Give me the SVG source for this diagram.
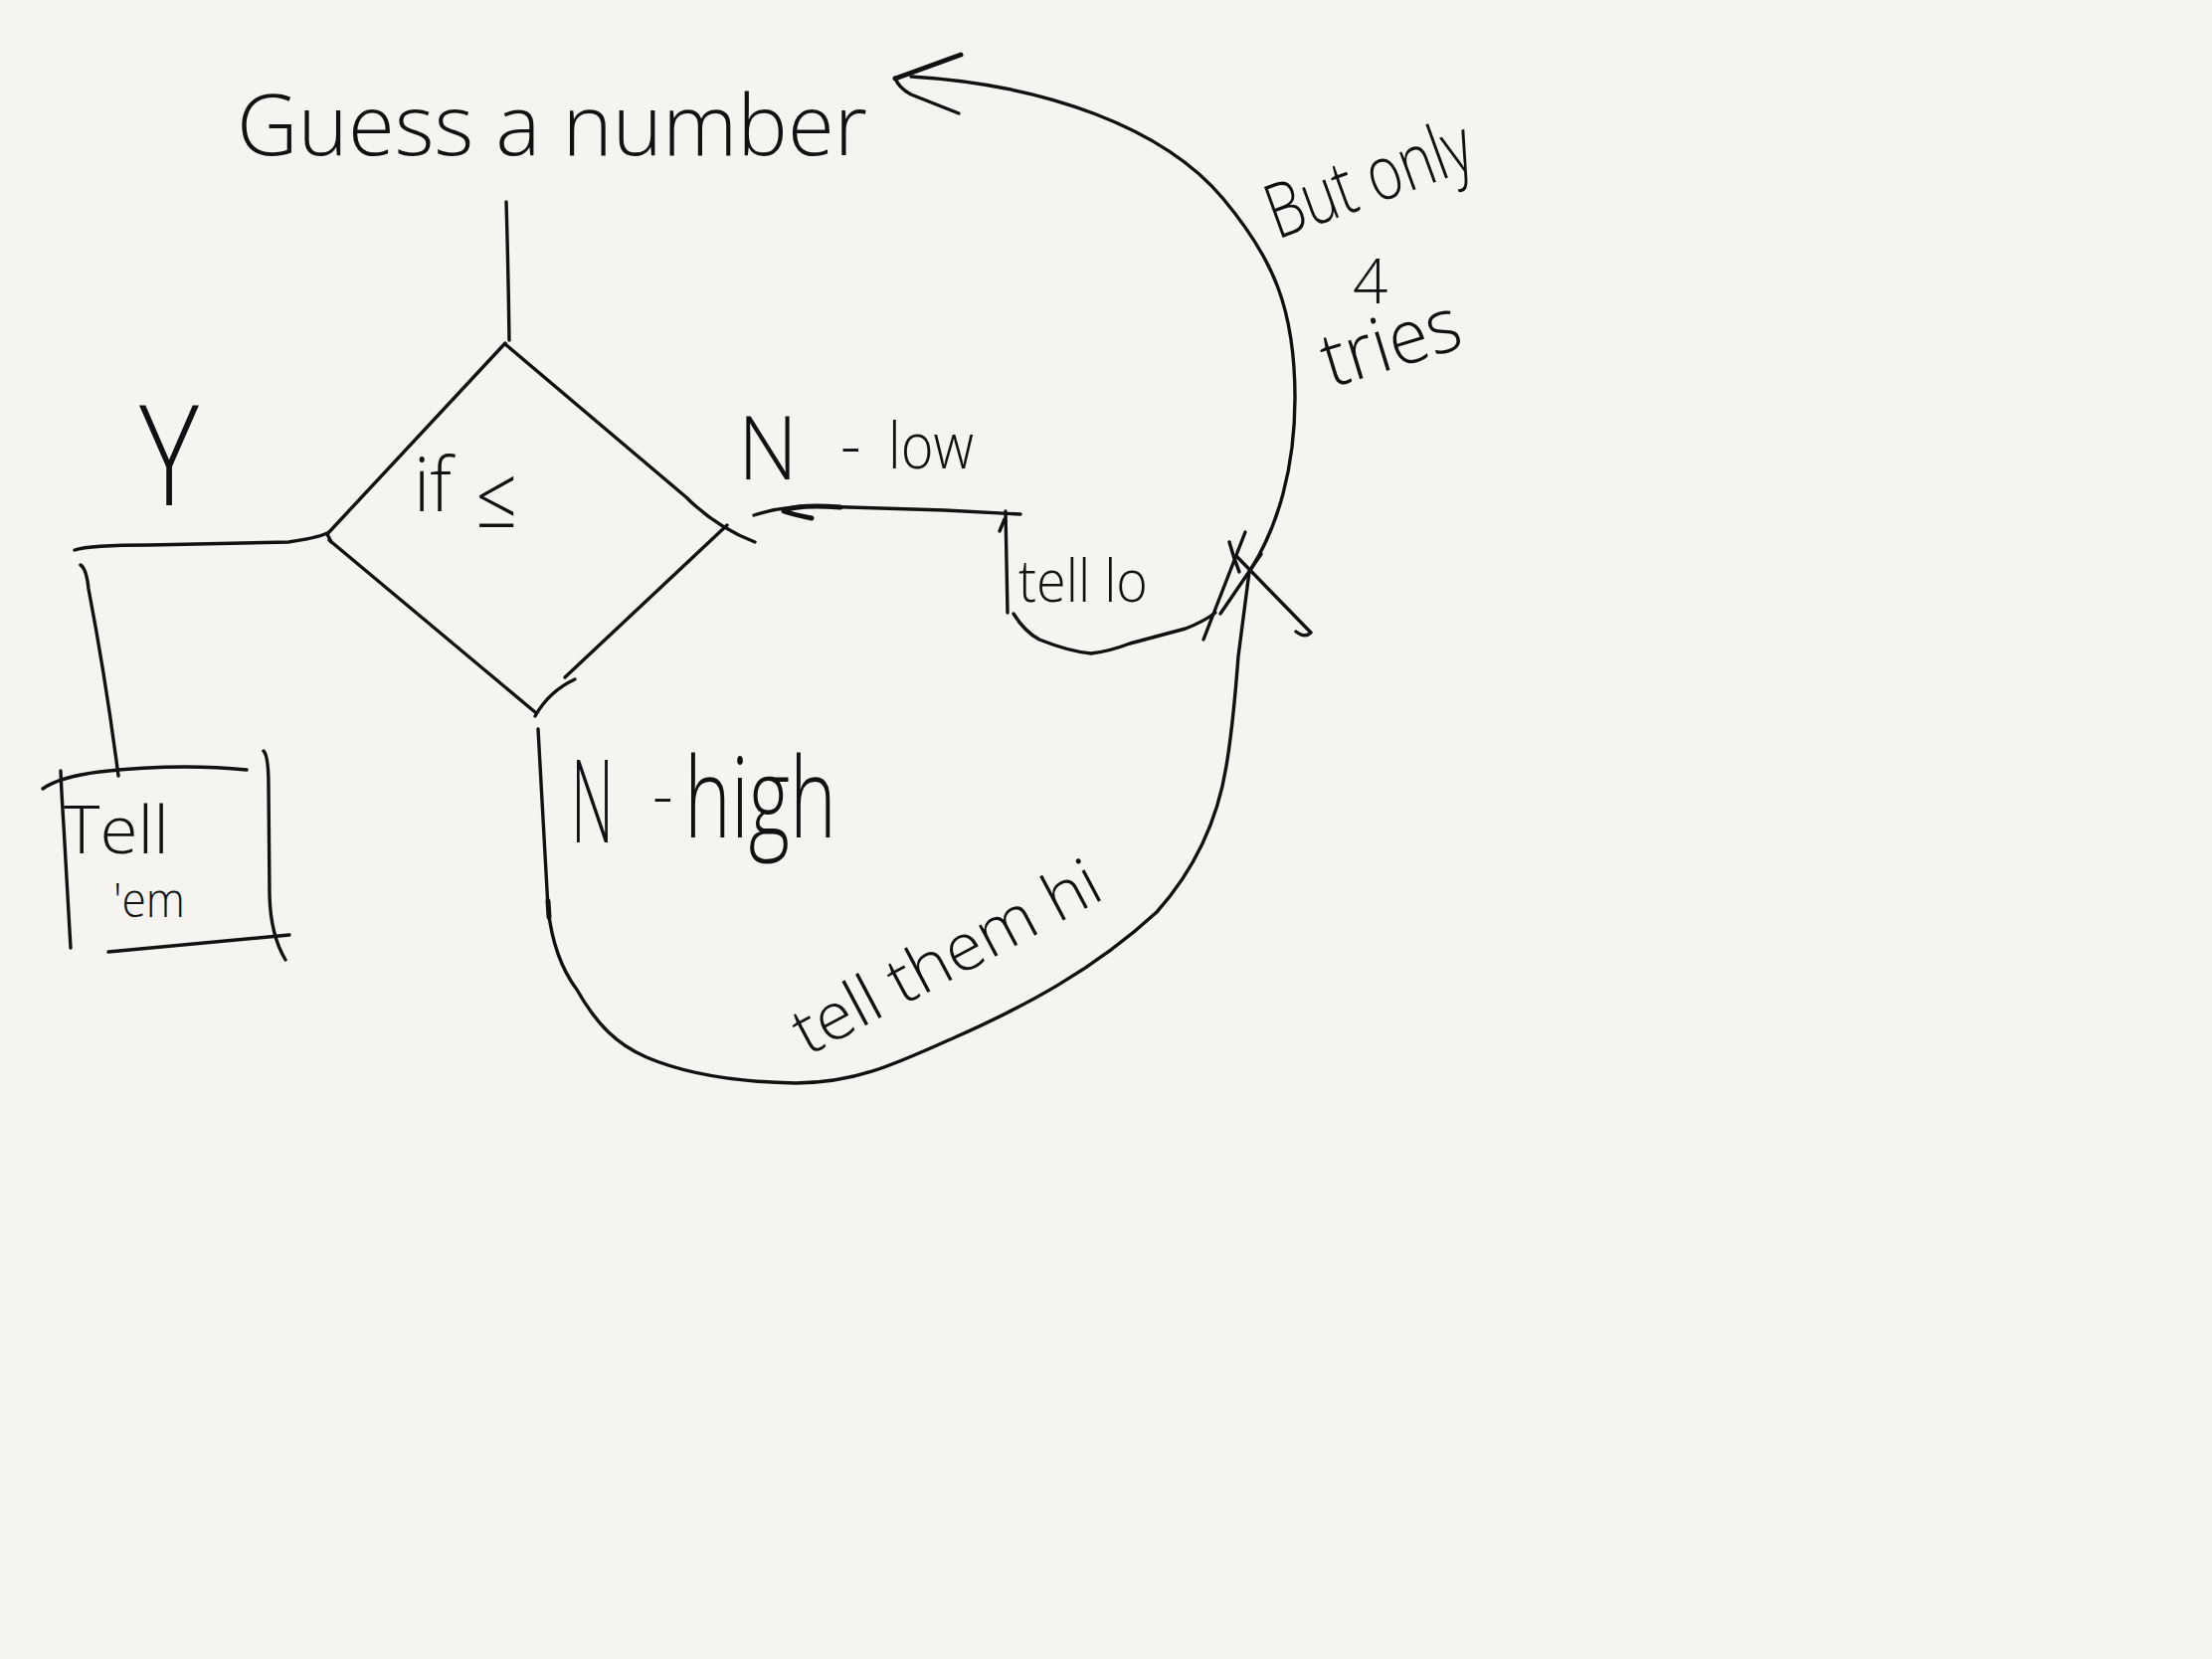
<svg xmlns="http://www.w3.org/2000/svg" width="2224" height="1668" viewBox="0 0 2224 1668">
<style>
.ink{fill:none;stroke:#111;stroke-width:3.4;stroke-linecap:round;stroke-linejoin:round}
.thick{stroke-width:5}
.t{font-family:"Open Sans","Liberation Sans",sans-serif;font-weight:300;fill:#111}
</style>
<rect x="0" y="0" width="2224" height="1668" fill="#f5f4f0"/>

<g id="connectors">
  <!-- Guess to decision -->
  <path class="ink" d="M 509 203 Q 511 270 512 342"/>
  <!-- Y branch -->
  <path class="ink" d="M 75 553 Q 90 548 150 548 L 290 545 Q 318 541 329 536"/>
  <path class="ink" d="M 81 568 Q 87 572 89 592 Q 106 680 119 780"/>
  <!-- N low branch -->
  <path class="ink" d="M 758 518 Q 790 508 822 509 L 950 513 L 1026 517"/>
  <path class="ink thick" d="M 845 510 Q 800 507 788 514 Q 800 518 816 521"/>
  <path class="ink" d="M 1011 514 L 1013 616"/>
  <path class="ink" d="M 1010 522 L 1005 534"/>
  <path class="ink" d="M 1019 617 Q 1030 635 1045 643 Q 1075 655 1097 657 Q 1115 655 1136 647 Q 1170 638 1192 632 Q 1210 625 1222 616"/>
  <!-- cross mark -->
  <path class="ink" d="M 1210 643 L 1252 535"/>
  <path class="ink" d="M 1227 617 L 1268 557"/>
  <path class="ink" d="M 1236 545 Q 1240 560 1246 575"/>
  <path class="ink" d="M 1244 560 L 1318 636 Q 1312 642 1303 635"/>
  <!-- loop back to Guess -->
  <path class="ink" d="M 1256 575 C 1285 530 1302 470 1302 400 C 1302 310 1280 260 1230 200 C 1170 128 1050 85 916 77"/>
  <path class="ink thick" d="M 900 79 L 966 55"/>
  <path class="ink" d="M 900 78 Q 903 88 916 95 L 964 114"/>
  <!-- N high branch -->
  <path class="ink" d="M 541 733 L 551 913 C 555 950 565 975 580 995 C 600 1030 620 1050 650 1063 C 690 1080 740 1088 800 1089 C 860 1089 900 1070 960 1043 C 1030 1012 1100 975 1163 917 C 1205 870 1225 820 1233 770 C 1238 740 1242 700 1245 660 L 1256 575"/>
  <path class="ink thick" d="M 551 906 L 552 922"/>
</g>

<g id="guess">
  <text class="t" x="238" y="156" font-size="84" textLength="634" lengthAdjust="spacingAndGlyphs">Guess a number</text>
</g>

<g id="decision">
  <path class="ink" d="M 508 346 L 690 500 Q 720 530 759 545"/>
  <path class="ink" d="M 508 345 L 329 537 L 333 545"/>
  <path class="ink" d="M 331 543 L 538 716"/>
  <path class="ink" d="M 731 528 L 568 681"/>
  <path class="ink" d="M 538 720 Q 552 695 578 683"/>
  <text class="t" font-size="76"><tspan x="416" y="514" textLength="38" lengthAdjust="spacingAndGlyphs">if</tspan><tspan x="478" y="530" font-size="86" textLength="42" lengthAdjust="spacingAndGlyphs">≤</tspan></text>
</g>

<g id="label-y">
  <text class="t" x="140" y="508" font-size="140" textLength="60" lengthAdjust="spacingAndGlyphs">Y</text>
</g>

<g id="tell-em">
  <path class="ink" d="M 43 793 Q 60 781 100 776 Q 180 767 248 774"/>
  <path class="ink" d="M 61 775 Q 62 800 64 830 L 71 953"/>
  <path class="ink" d="M 265 755 Q 270 760 270 790 L 271 900 Q 272 940 287 965"/>
  <path class="ink" d="M 109 957 L 291 940"/>
  <text class="t" font-size="66"><tspan x="64" y="858" textLength="106" lengthAdjust="spacingAndGlyphs">Tell</tspan><tspan x="114" y="922" font-size="48" textLength="72" lengthAdjust="spacingAndGlyphs">'em</tspan></text>
</g>

<g id="label-n-low">
  <text class="t" font-size="64"><tspan x="742" y="482" font-size="88" textLength="60" lengthAdjust="spacingAndGlyphs">N</tspan><tspan x="845" y="470">-</tspan><tspan x="893" y="471" textLength="86" lengthAdjust="spacingAndGlyphs">low</tspan></text>
</g>

<g id="tell-lo">
  <text class="t" x="1024" y="605" font-size="58" textLength="130" lengthAdjust="spacingAndGlyphs">tell lo</text>
</g>

<g id="label-n-high">
  <text class="t" font-size="112"><tspan x="574" y="847" font-size="116" textLength="43" lengthAdjust="spacingAndGlyphs">N</tspan><tspan x="656" y="822" font-size="64">-</tspan><tspan x="688" y="842" textLength="153" lengthAdjust="spacingAndGlyphs">high</tspan></text>
</g>

<g id="tell-them-hi">
  <text class="t" x="812" y="1062" font-size="66" textLength="340" lengthAdjust="spacingAndGlyphs" transform="rotate(-28 812 1062)">tell them hi</text>
</g>

<g id="note-tries">
  <text class="t" x="1284" y="241" font-size="76" textLength="215" lengthAdjust="spacingAndGlyphs" transform="rotate(-20 1284 241)">But only</text>
  <text class="t" x="1360" y="305" font-size="62">4</text>
  <text class="t" x="1338" y="390" font-size="76" textLength="142" lengthAdjust="spacingAndGlyphs" transform="rotate(-17 1338 390)">tries</text>
</g>
</svg>
